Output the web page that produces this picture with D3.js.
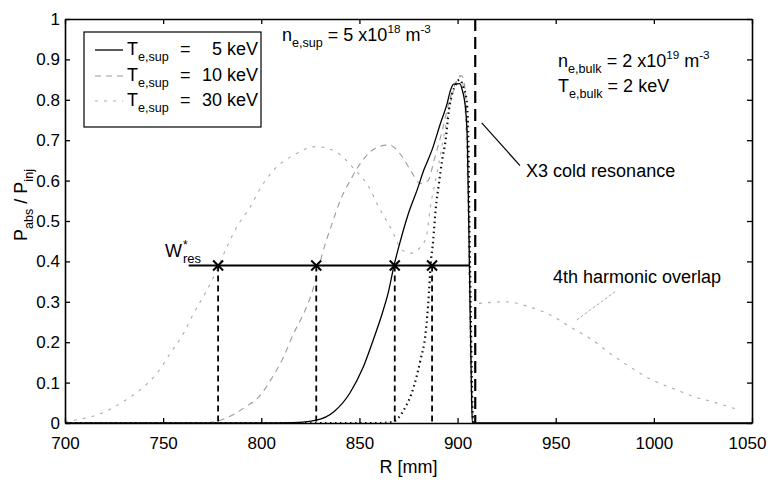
<!DOCTYPE html>
<html>
<head>
<meta charset="utf-8">
<script src="https://cdn.jsdelivr.net/npm/d3@7"></script>
<style>
  html, body { margin: 0; padding: 0; background: #fff; }
  svg { display: block; }
  text { font-family: "Liberation Sans", Arial, Helvetica, sans-serif; fill: #000; }
</style>
</head>
<body>
<svg id="chart" width="768" height="481"></svg>
<script>
// ---------------- data ----------------
const xTicks = [700, 750, 800, 850, 900, 950, 1000, 1050];
const yTicks = [0, 0.1, 0.2, 0.3, 0.4, 0.5, 0.6, 0.7, 0.8, 0.9, 1];
const yTickLabels = ["0", "0.1", "0.2", "0.3", "0.4", "0.5", "0.6", "0.7", "0.8", "0.9", "1"];

// T_e,sup = 5 keV (solid)
const r5 = [700, 760, 800, 816, 828, 837, 845, 852, 857, 861.6, 865, 867.5, 871, 875, 879.4, 882.8, 887, 891.3, 894.7, 896.4, 898, 901, 902.4, 904.1, 905, 906, 907, 907.5, 1050];
const p5 = [0, 0, 0, 0.001, 0.007, 0.028, 0.073, 0.139, 0.205, 0.271, 0.329, 0.387, 0.453, 0.519, 0.577, 0.626, 0.676, 0.742, 0.791, 0.824, 0.839, 0.84, 0.824, 0.775, 0.692, 0.4, 0.1, 0, 0];

// T_e,sup = 10 keV (grey dashed)
const r10 = [700, 770, 782, 792, 799, 805, 811.4, 816.5, 821.6, 826.7, 829.3, 832.7, 836.1, 840.3, 845.4, 848.8, 853.1, 859.8, 865, 871.8, 876, 881.1, 885, 888, 892, 896, 900, 902, 904, 905.5, 906.5, 907.5, 908];
const p10 = [0, 0, 0.012, 0.04, 0.066, 0.108, 0.164, 0.222, 0.271, 0.337, 0.387, 0.445, 0.494, 0.552, 0.601, 0.63, 0.659, 0.684, 0.688, 0.659, 0.626, 0.593, 0.6, 0.65, 0.72, 0.8, 0.85, 0.86, 0.82, 0.6, 0.3, 0.05, 0];

// T_e,sup = 30 keV (light grey dashed)
const r30 = [700, 705, 719.5, 729.7, 738.3, 746.8, 753.6, 760.4, 765.5, 772.3, 777.4, 782.5, 787.6, 794.4, 799.5, 806.3, 816.5, 827.6, 837.8, 847.1, 854.7, 859.8, 866, 871.8, 876, 880, 884, 886, 890, 895, 899, 901, 903, 905, 906, 907, 908];
const p30 = [0.003, 0.007, 0.026, 0.053, 0.082, 0.123, 0.172, 0.222, 0.271, 0.329, 0.379, 0.436, 0.486, 0.535, 0.581, 0.626, 0.663, 0.684, 0.672, 0.63, 0.585, 0.535, 0.482, 0.428, 0.42, 0.43, 0.46, 0.53, 0.63, 0.76, 0.84, 0.86, 0.83, 0.6, 0.3, 0.05, 0];

// bulk only (thick dotted)
const rBulk = [700, 860, 867, 872.6, 877.7, 881.1, 883.7, 885.4, 886.2, 887.6, 888.8, 890.5, 892.1, 893.9, 895.6, 897.3, 899, 901, 903, 904.6, 905.5, 906, 906.8, 907.5, 908];
const pBulk = [0, 0, 0.003, 0.032, 0.09, 0.156, 0.222, 0.321, 0.387, 0.453, 0.527, 0.593, 0.65, 0.7, 0.775, 0.816, 0.837, 0.85, 0.83, 0.8, 0.7, 0.5, 0.25, 0.05, 0];

// 4th harmonic overlap (beyond resonance)
const rOver = [910.9, 924.5, 936.4, 947.4, 957.7, 968.7, 978.9, 989.1, 999.3, 1009.5, 1020.6, 1032.5, 1043.5];
const pOver = [0.296, 0.3, 0.288, 0.267, 0.237, 0.205, 0.168, 0.135, 0.106, 0.086, 0.065, 0.049, 0.032];

// w*_res level and crossing points
const wRes = 0.39;
const wResStart = 763, wResEnd = 906;
const crossR = [778, 828, 868, 887];
const rCold = 909;

// ---------------- drawing ----------------
const svg = d3.select("#chart");
const x = d3.scaleLinear().domain([700, 1050]).range([65, 752]);
const y = d3.scaleLinear().domain([0, 1]).range([423, 19]);

const line = d3.line().x(d => x(d[0])).y(d => y(d[1])).curve(d3.curveMonotoneX);
const zip = (a, b) => a.map((v, i) => [v, b[i]]);

const plot = svg.append("g");

function drawSeries(rs, ps, style) {
  plot.append("path")
    .attr("d", line(zip(rs, ps)))
    .attr("fill", "none")
    .attr("stroke", style.color)
    .attr("stroke-width", style.width)
    .attr("stroke-dasharray", style.dash || null)
    .attr("stroke-linecap", style.cap || "butt")
    .attr("stroke-linejoin", "round");
}

const st30 = {color: "#ababab", width: 1.1, dash: "3,6"};
const st10 = {color: "#9c9c9c", width: 1.1, dash: "6,5"};
const st5 = {color: "#000", width: 1.3};
const stBulk = {color: "#111", width: 2.2, dash: "1.5,3.5", cap: "butt"};

drawSeries(r30, p30, st30);
drawSeries(r10, p10, st10);
drawSeries(rOver, pOver, st30);
drawSeries(rBulk, pBulk, stBulk);
drawSeries(r5, p5, st5);

// resonance line
plot.append("line")
  .attr("x1", x(rCold)).attr("x2", x(rCold))
  .attr("y1", y(1)).attr("y2", y(0))
  .attr("stroke", "#000").attr("stroke-width", 2.2)
  .attr("stroke-dasharray", "12,6");

// w*res horizontal line
plot.append("line")
  .attr("x1", x(wResStart)).attr("x2", x(wResEnd))
  .attr("y1", y(wRes)).attr("y2", y(wRes))
  .attr("stroke", "#000").attr("stroke-width", 2);

// vertical dashed drops + cross markers
crossR.forEach(r => {
  plot.append("line")
    .attr("x1", x(r)).attr("x2", x(r))
    .attr("y1", y(wRes)).attr("y2", y(0))
    .attr("stroke", "#000").attr("stroke-width", 1.8)
    .attr("stroke-dasharray", "6,4");
  const cx = x(r), cy = y(wRes), s = 5;
  plot.append("path")
    .attr("d", `M${cx - s},${cy - s}L${cx + s},${cy + s}M${cx - s},${cy + s}L${cx + s},${cy - s}`)
    .attr("stroke", "#000").attr("stroke-width", 2);
});

// ---------------- axes ----------------
const tickFont = "17px";
const gx = svg.append("g").attr("transform", `translate(0,${y(0)})`)
  .call(d3.axisBottom(x).tickValues(xTicks).tickFormat(d3.format("d"))
    .tickSizeInner(-5).tickSizeOuter(0).tickPadding(14));
const gy = svg.append("g").attr("transform", `translate(${x(700)},0)`)
  .call(d3.axisLeft(y).tickValues(yTicks).tickFormat((d, i) => yTickLabels[i])
    .tickSizeInner(-5).tickSizeOuter(0).tickPadding(5));
const gt = svg.append("g").attr("transform", `translate(0,${y(1)})`)
  .call(d3.axisTop(x).tickValues(xTicks).tickFormat("")
    .tickSizeInner(-5).tickSizeOuter(0));
const gr = svg.append("g").attr("transform", `translate(${x(1050)},0)`)
  .call(d3.axisRight(y).tickValues(yTicks).tickFormat("")
    .tickSizeInner(-5).tickSizeOuter(0));

[gx, gy, gt, gr].forEach(g => {
  g.select(".domain").attr("stroke", "#000").attr("stroke-width", 1.6);
  g.selectAll(".tick line").attr("stroke", "#000").attr("stroke-width", 1.3);
  g.selectAll("text").attr("font-size", tickFont)
    .attr("font-family", '"Liberation Sans", Arial, sans-serif').attr("fill", "#000");
});
// keep the last x label inside the frame, as in the reference
gx.selectAll(".tick text").filter(d => d === 1050).attr("dx", "-5");

// ---------------- rich text helper ----------------
function rich(parent, px, py, parts, size, opts = {}) {
  const t = parent.append("text").attr("x", px).attr("y", py)
    .attr("font-size", size + "px")
    .attr("text-anchor", opts.anchor || "start")
    .attr("fill", opts.fill || "#000");
  if (opts.transform) t.attr("transform", opts.transform);
  let cur = 0;
  parts.forEach(([txt, kind]) => {
    let shift = 0, fs = size;
    if (kind === "sub") { shift = size * 0.33; fs = size * 0.7; }
    if (kind === "sup") { shift = -size * 0.42; fs = size * 0.65; }
    t.append("tspan").attr("dy", shift - cur).attr("font-size", fs + "px").text(txt);
    cur = shift;
  });
  return t;
}

// axis titles
svg.append("text").attr("x", (x(700) + x(1050)) / 2).attr("y", 473)
  .attr("text-anchor", "middle").attr("font-size", "18px").text("R [mm]");
rich(svg, 0, 0, [["P", "n"], ["abs", "sub"], [" / P", "n"], ["inj", "sub"]], 18,
  {anchor: "middle", transform: "translate(27,205) rotate(-90)"});

// ---------------- legend ----------------
const lg = svg.append("g");
lg.append("rect").attr("x", 84).attr("y", 32).attr("width", 177).attr("height", 95)
  .attr("fill", "#fff").attr("stroke", "#000").attr("stroke-width", 1.2);
const legendRows = [
  {val: "5", style: st5, yy: 55},
  {val: "10", style: st10, yy: 81},
  {val: "30", style: st30, yy: 106}
];
legendRows.forEach(row => {
  lg.append("line").attr("x1", 95).attr("x2", 123)
    .attr("y1", row.yy - 5).attr("y2", row.yy - 5)
    .attr("stroke", row.style.color).attr("stroke-width", row.style.width)
    .attr("stroke-dasharray", row.style.dash || null);
  rich(lg, 127, row.yy, [["T", "n"], ["e,sup", "sub"]], 18);
  lg.append("text").attr("x", 180).attr("y", row.yy).attr("font-size", "18px").text("=");
  lg.append("text").attr("x", 222).attr("y", row.yy).attr("font-size", "18px")
    .attr("text-anchor", "end").text(row.val);
  lg.append("text").attr("x", 227).attr("y", row.yy).attr("font-size", "18px").text("keV");
});

// ---------------- annotations ----------------
rich(svg, 282, 41, [["n", "n"], ["e,sup", "sub"], [" = 5 x10", "n"], ["18", "sup"], [" m", "n"], ["-3", "sup"]], 18);
rich(svg, 558, 67, [["n", "n"], ["e,bulk", "sub"], [" = 2 x10", "n"], ["19", "sup"], [" m", "n"], ["-3", "sup"]], 18);
rich(svg, 558, 92, [["T", "n"], ["e,bulk", "sub"], [" = 2 keV", "n"]], 18);

// X3 cold resonance
svg.append("line").attr("x1", x(912.3)).attr("y1", y(0.743))
  .attr("x2", x(931.8)).attr("y2", y(0.637))
  .attr("stroke", "#000").attr("stroke-width", 1.2);
svg.append("text").attr("x", x(934.9)).attr("y", y(0.609))
  .attr("font-size", "18px").text("X3 cold resonance");

// 4th harmonic overlap
svg.append("line").attr("x1", x(960.7)).attr("y1", y(0.255))
  .attr("x2", x(980.2)).attr("y2", y(0.325))
  .attr("stroke", "#aaa").attr("stroke-width", 1).attr("stroke-dasharray", "3,2");
svg.append("text").attr("x", x(948.6)).attr("y", y(0.3465))
  .attr("font-size", "18px").attr("fill", "#c4c4c4").text("4th harmonic overlap");

// w*res label
svg.append("text").attr("x", 165).attr("y", 257).attr("font-size", "18px").text("W");
svg.append("text").attr("x", 183).attr("y", 249).attr("font-size", "12px").text("*");
svg.append("text").attr("x", 183).attr("y", 263).attr("font-size", "13px").text("res");
</script>
</body>
</html>
